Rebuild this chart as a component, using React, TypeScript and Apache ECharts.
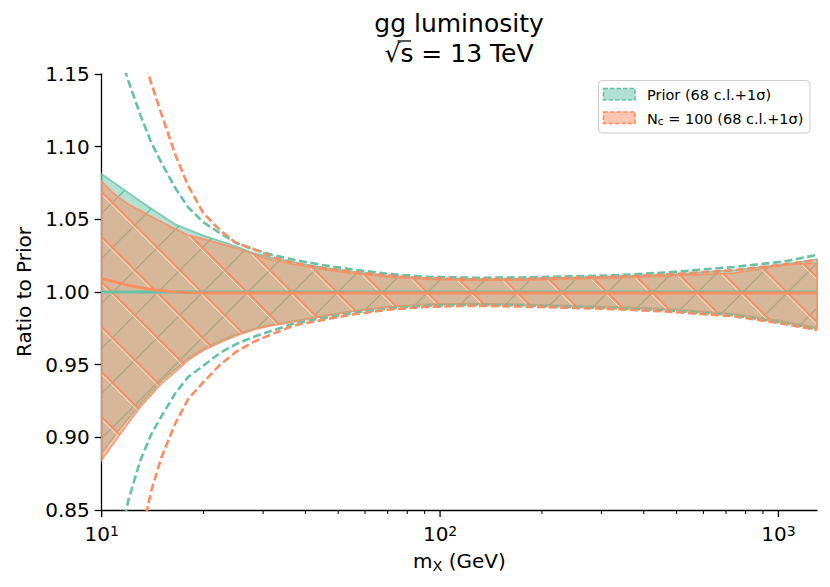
import React, { useEffect, useRef } from 'react';
import * as echarts from 'echarts';

// ---------- data ----------
const massX = [10, 11, 12, 13, 14, 15, 16.5, 18, 20, 22.5, 25, 28, 32, 37, 45, 55, 70, 90, 125, 175, 250, 330, 470, 740, 1040, 1300];

const priorHi = [1.081, 1.0744, 1.0682, 1.0625, 1.0574, 1.0528, 1.0465, 1.043, 1.0388, 1.0348, 1.0313, 1.027, 1.0235, 1.0205, 1.0168, 1.014, 1.011, 1.0093, 1.0088, 1.009, 1.0098, 1.0105, 1.012, 1.015, 1.019, 1.0225];
const priorLo = [0.889, 0.902, 0.913, 0.923, 0.931, 0.939, 0.947, 0.9545, 0.961, 0.9665, 0.9708, 0.9745, 0.9775, 0.98, 0.9835, 0.9868, 0.9898, 0.9914, 0.992, 0.9915, 0.9905, 0.9897, 0.9885, 0.985, 0.9798, 0.9755];
const priorCentral = [1.0, 1.0, 1.0, 1.0, 1.0, 1.0, 1.0, 1.0, 1.0, 1.0, 1.0, 1.0, 1.0, 1.0, 1.0, 1.0, 1.0, 1.0, 1.0, 1.0, 1.0, 1.0, 1.0, 1.0, 1.0, 1.0];
const priorSigHi = [1.207, 1.172, 1.145, 1.122, 1.103, 1.0892, 1.0715, 1.0583, 1.0479, 1.0401, 1.0337, 1.0295, 1.0254, 1.0222, 1.0185, 1.0155, 1.0125, 1.0105, 1.0098, 1.01, 1.0108, 1.0115, 1.0135, 1.0172, 1.021, 1.0255];
const priorSigLo = [0.767, 0.817, 0.857, 0.884, 0.902, 0.9143, 0.9303, 0.9415, 0.9494, 0.9585, 0.9642, 0.969, 0.9735, 0.9783, 0.982, 0.9855, 0.9885, 0.9905, 0.9912, 0.9908, 0.9897, 0.9888, 0.9873, 0.984, 0.9785, 0.9745];

const ncHi = [1.076, 1.0665, 1.0604, 1.056, 1.052, 1.0483, 1.0433, 1.0391, 1.0366, 1.0331, 1.0301, 1.0262, 1.022, 1.019, 1.0155, 1.0128, 1.0105, 1.0088, 1.008, 1.0082, 1.009, 1.0098, 1.011, 1.013, 1.0185, 1.0198];
const ncLo = [0.8844, 0.898, 0.91, 0.921, 0.929, 0.937, 0.945, 0.953, 0.96, 0.9655, 0.97, 0.974, 0.977, 0.9795, 0.983, 0.9865, 0.9895, 0.9912, 0.9918, 0.9912, 0.99, 0.9892, 0.9878, 0.9845, 0.979, 0.975];
const ncCentral = [1.0094, 1.0068, 1.0046, 1.003, 1.0018, 1.001, 1.0001, 0.9996, 0.9994, 0.9993, 0.9993, 0.9993, 0.9993, 0.9993, 0.9993, 0.9993, 0.9993, 0.9993, 0.9993, 0.9993, 0.9993, 0.9993, 0.9993, 0.9993, 0.9993, 0.9993];
const ncSigHi = [1.288, 1.236, 1.1995, 1.169, 1.1439, 1.1227, 1.0944, 1.0732, 1.054, 1.0419, 1.0337, 1.0297, 1.024, 1.0198, 1.0165, 1.0138, 1.0113, 1.0095, 1.0088, 1.009, 1.0098, 1.0105, 1.012, 1.015, 1.019, 1.022];
const ncSigLo = [0.65, 0.726, 0.783, 0.828, 0.863, 0.886, 0.9096, 0.9263, 0.9382, 0.9505, 0.959, 0.9655, 0.9712, 0.977, 0.9808, 0.9845, 0.9878, 0.9897, 0.9905, 0.99, 0.989, 0.9882, 0.9865, 0.9833, 0.978, 0.974];

const xMajorTicks = [10, 100, 1000];
const xMinorTicks = [20, 30, 40, 50, 60, 70, 80, 90, 200, 300, 400, 500, 600, 700, 800, 900];

const legendLabels = ['Prior (68 c.l.+1σ)', '{n|N}{c|c}{n| = 100 (68 c.l.+1σ)}'];
const titleLines = ['gg luminosity', '√s = 13 TeV'];

// ---------- style ----------
const FONT = '"DejaVu Sans", "Liberation Sans", sans-serif';
const GREEN = '#66c2a5';
const ORANGE = '#fc8d62';
const HATCH = 45;
const Y_MIN = 0.85;
const Y_MAX = 1.15;

function hatchImage(dir: 'fwd' | 'back', color: string, width: number, glow: boolean): string {
  const s = HATCH;
  const q = s / 4;
  const d = dir === 'fwd'
    ? `M0,${s}L${s},0M${-q},${q}L${q},${-q}M${s - q},${s + q}L${s + q},${s - q}`
    : `M0,0L${s},${s}M${-q},${s - q}L${q},${s + q}M${s - q},${-q}L${s + q},${q}`;
  const glowPath = glow
    ? `<path d="${d}" transform="translate(-1.4,1.4)" stroke="#ffffff" stroke-opacity="0.7" stroke-width="0.9" fill="none"/>`
    : '';
  const svg = `<svg xmlns="http://www.w3.org/2000/svg" width="${s}" height="${s}" viewBox="0 0 ${s} ${s}">${glowPath}<path d="${d}" stroke="${color}" stroke-width="${width}" fill="none"/></svg>`;
  return 'data:image/svg+xml;charset=utf-8,' + encodeURIComponent(svg);
}

function bandSeries(name: string, lo: number[], hi: number[], fill: string, hatch: string, edge: string) {
  return {
    type: 'custom',
    name,
    coordinateSystem: 'cartesian2d',
    clip: true,
    silent: true,
    data: massX.map((x, i) => [x, lo[i], hi[i]]),
    encode: { x: 0, y: [1, 2] },
    renderItem: (params: any, api: any) => {
      if (params.dataIndex !== 0) return null;
      const top = massX.map((x, i) => api.coord([x, hi[i]]));
      const bot = massX.map((x, i) => api.coord([x, lo[i]])).reverse();
      const pts = top.concat(bot);
      return {
        type: 'group',
        children: [
          { type: 'polygon', shape: { points: pts }, style: { fill, stroke: null } },
          {
            type: 'polygon',
            shape: { points: pts },
            style: {
              fill: { image: hatch, repeat: 'repeat', imageWidth: HATCH, imageHeight: HATCH },
              stroke: edge,
              lineWidth: 1.8,
            },
          },
        ],
      };
    },
  };
}

function lineSeries(name: string, ys: number[], color: string, dashed: boolean) {
  return {
    type: 'line',
    name,
    data: massX.map((x, i) => [x, ys[i]]),
    showSymbol: false,
    symbol: 'none',
    silent: true,
    clip: true,
    lineStyle: dashed
      ? { color, width: 2.6, type: [8, 3.6] }
      : { color, width: 2.8, type: 'solid' },
  };
}

function tickSeries(values: number[], len: number, width: number) {
  return {
    type: 'custom',
    coordinateSystem: 'cartesian2d',
    clip: false,
    silent: true,
    data: values.map((v) => [v, Y_MIN]),
    renderItem: (params: any, api: any) => {
      const p = api.coord([api.value(0), api.value(1)]);
      return {
        type: 'line',
        shape: { x1: p[0], y1: p[1], x2: p[0], y2: p[1] + len },
        style: { stroke: '#000', lineWidth: width },
      };
    },
  };
}

export default function App() {
  const ref = useRef<HTMLDivElement>(null);

  useEffect(() => {
    if (!ref.current) return;
    const chart = echarts.init(ref.current, null, { renderer: 'svg' });
    const greenHatch = hatchImage('fwd', GREEN, 1.5, false);
    const orangeHatch = hatchImage('back', ORANGE, 1.8, true);

    const option: any = {
      animation: false,
      backgroundColor: '#ffffff',
      grid: { left: 101.7, right: 13, top: 74, bottom: 77, containLabel: false, outerBoundsMode: 'none' },
      xAxis: {
        type: 'log',
        logBase: 10,
        min: 10,
        max: 1300,
        axisLine: { show: true, onZero: false, lineStyle: { color: '#000', width: 1.3 } },
        axisTick: { show: false },
        minorTick: { show: false },
        splitLine: { show: false },
        minorSplitLine: { show: false },
        axisLabel: {
          margin: 14,
          color: '#000',
          showMaxLabel: false,
          formatter: (v: number) => {
            const e = Math.log10(v);
            const r = Math.round(e);
            if (Math.abs(e - r) > 1e-6) return '';
            return `{b|10}{s|${r}}`;
          },
          rich: {
            b: { fontFamily: FONT, fontSize: 20, lineHeight: 20, color: '#000' },
            s: { fontFamily: FONT, fontSize: 14, lineHeight: 6, verticalAlign: 'top', color: '#000' },
          },
        },
        name: '{m|m}{x|X}{t| (GeV)}',
        nameLocation: 'middle',
        nameGap: 39,
        nameTextStyle: {
          color: '#000',
          rich: {
            m: { fontFamily: FONT, fontSize: 20, lineHeight: 24, color: '#000' },
            x: { fontFamily: FONT, fontSize: 14.5, lineHeight: 11, verticalAlign: 'bottom', color: '#000' },
            t: { fontFamily: FONT, fontSize: 20, lineHeight: 24, color: '#000' },
          },
        },
      },
      yAxis: {
        type: 'value',
        min: Y_MIN,
        max: Y_MAX,
        interval: 0.05,
        axisLine: { show: true, onZero: false, lineStyle: { color: '#000', width: 1.3 } },
        axisTick: { show: true, length: 7, lineStyle: { color: '#000', width: 1.3 } },
        splitLine: { show: false },
        axisLabel: {
          margin: 12,
          color: '#000',
          fontFamily: FONT,
          fontSize: 20,
          formatter: (v: number) => v.toFixed(2),
        },
        name: 'Ratio to Prior',
        nameLocation: 'middle',
        nameGap: 65,
        nameTextStyle: { color: '#000', fontFamily: FONT, fontSize: 20, lineHeight: 20 },
      },
      series: [
        bandSeries('Prior band', priorLo, priorHi, 'rgba(102,194,165,0.5)', greenHatch, 'rgba(102,194,165,0.8)'),
        bandSeries('Nc band', ncLo, ncHi, 'rgba(252,141,98,0.5)', orangeHatch, 'rgba(252,141,98,0.8)'),
        lineSeries('Prior +1σ', priorSigHi, GREEN, true),
        lineSeries('Prior -1σ', priorSigLo, GREEN, true),
        lineSeries('Nc +1σ', ncSigHi, ORANGE, true),
        lineSeries('Nc -1σ', ncSigLo, ORANGE, true),
        lineSeries('Prior central', priorCentral, GREEN, false),
        lineSeries('Nc central', ncCentral, ORANGE, false),
        tickSeries(xMajorTicks, 7, 1.3),
        tickSeries(xMinorTicks, 4, 1),
      ],
      graphic: [
        {
          type: 'text', x: 459, y: 23, z: 100,
          style: { text: titleLines[0], fontFamily: FONT, fontSize: 25, fill: '#000', align: 'center', verticalAlign: 'middle', textAlign: 'center', textVerticalAlign: 'middle' },
        },
        {
          type: 'text', x: 459, y: 53, z: 100,
          style: { text: titleLines[1], fontFamily: FONT, fontSize: 25, fill: '#000', align: 'center', verticalAlign: 'middle', textAlign: 'center', textVerticalAlign: 'middle' },
        },
        {
          type: 'line', z: 100,
          shape: { x1: 397.5, y1: 41, x2: 411, y2: 41 },
          style: { stroke: '#000', lineWidth: 1.3 },
        },
        {
          type: 'rect', z: 100,
          shape: { x: 598.5, y: 80.5, width: 211.5, height: 52.5, r: 4 },
          style: { fill: 'rgba(255,255,255,0.8)', stroke: '#cccccc', lineWidth: 1 },
        },
        {
          type: 'rect', z: 101,
          shape: { x: 603.5, y: 88.5, width: 31.5, height: 11.5 },
          style: { fill: 'rgba(102,194,165,0.5)', stroke: GREEN, lineWidth: 1.6, lineDash: [4.5, 2] },
        },
        {
          type: 'rect', z: 101,
          shape: { x: 603.5, y: 112, width: 31.5, height: 11.5 },
          style: { fill: 'rgba(252,141,98,0.5)', stroke: ORANGE, lineWidth: 1.6, lineDash: [4.5, 2] },
        },
        {
          type: 'text', x: 647, y: 95, z: 101,
          style: { text: legendLabels[0], fontFamily: FONT, fontSize: 14.5, fill: '#000', align: 'left', verticalAlign: 'middle', textAlign: 'left', textVerticalAlign: 'middle' },
        },
        {
          type: 'text', x: 647, y: 118.5, z: 101,
          style: {
            text: legendLabels[1],
            fill: '#000',
            align: 'left', verticalAlign: 'middle', textAlign: 'left', textVerticalAlign: 'middle',
            rich: {
              n: { fontFamily: FONT, fontSize: 14.5, lineHeight: 16, fill: '#000' },
              c: { fontFamily: FONT, fontSize: 10.5, lineHeight: 11, verticalAlign: 'bottom', fill: '#000' },
            },
          },
        },
      ],
    };

    chart.setOption(option);
    return () => chart.dispose();
  }, []);

  return (
    <div
      ref={ref}
      style={{ position: 'fixed', left: 0, top: 0, width: 830, height: 587, background: '#fff' }}
    />
  );
}
